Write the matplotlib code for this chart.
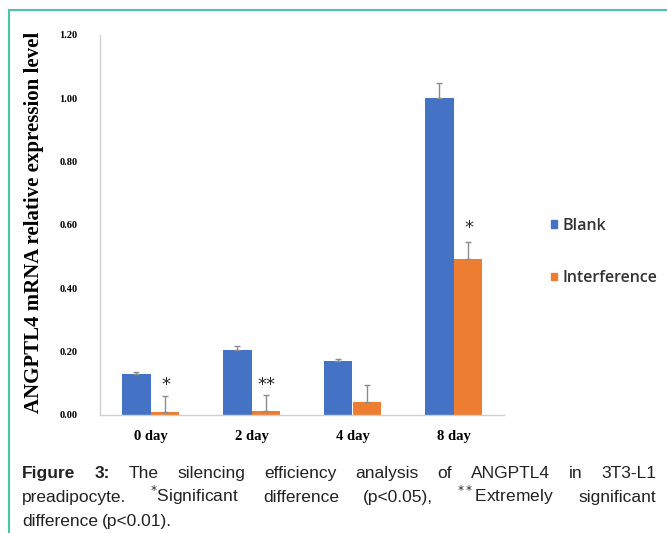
import matplotlib
matplotlib.use("Agg")
import matplotlib.pyplot as plt
import numpy as np
from matplotlib.lines import Line2D
from matplotlib.patches import Patch

# --- data ------------------------------------------------------------------
days = ["0 day", "2 day", "4 day", "8 day"]
blank = [0.13, 0.205, 0.17, 1.00]
blank_err = [0.006, 0.012, 0.008, 0.05]
interference = [0.01, 0.013, 0.042, 0.492]
interference_err = [0.05, 0.05, 0.052, 0.053]
marks = ["*", "**", "", "*"]
mark_y = [0.095, 0.095, None, 0.59]

BLUE = "#4472C4"
ORANGE = "#ED7D31"
TEAL = "#4cc4ad"

fig = plt.figure(figsize=(6.67, 5.33), dpi=100)

# page frame lines (top and left)
fig.add_artist(Line2D([9 / 667, 1], [1 - 10 / 533] * 2, color=TEAL, lw=1.5))
fig.add_artist(Line2D([9 / 667] * 2, [0, 1 - 10 / 533], color=TEAL, lw=1.5))

ax = fig.add_axes([100 / 667, 1 - 415 / 533, 404 / 667, 380 / 533])
x = np.arange(len(days))
w = 0.285
err_kw = dict(ecolor="#8c8c8c", elinewidth=1.0, capsize=2, capthick=1.0)
ax.bar(x - w / 2, blank, w, color=BLUE,
       yerr=[np.zeros(4), blank_err], error_kw=err_kw, zorder=2)
ax.bar(x + w / 2, interference, w, color=ORANGE,
       yerr=[np.zeros(4), interference_err], error_kw=err_kw, zorder=2)

for xi, m, my in zip(x, marks, mark_y):
    if m:
        ax.text(xi + w / 2 + 0.01, my, m, ha="center", va="center",
                fontsize=13, color="#222222")

ax.set_xlim(-0.5, 3.5)
ax.set_ylim(0, 1.2)
ax.set_yticks(np.arange(0, 1.21, 0.2))
ax.set_yticklabels([f"{v:.2f}" for v in np.arange(0, 1.21, 0.2)],
                   family="Liberation Serif", fontweight="bold", fontsize=7.5)
ax.set_xticks(x)
ax.set_xticklabels(days, family="Liberation Serif", fontweight="bold", fontsize=10.5)
ax.tick_params(axis="both", length=0)
ax.tick_params(axis="y", pad=16)
ax.tick_params(axis="x", pad=11)
for s in ["top", "right"]:
    ax.spines[s].set_visible(False)
for s in ["left", "bottom"]:
    ax.spines[s].set_color("#d0d0d0")
    ax.spines[s].set_linewidth(1.0)

fig.text(34 / 667, 1 - 222 / 533, "ANGPTL4 mRNA relative expression level",
         rotation=90, ha="center", va="center", family="Liberation Serif",
         fontweight="bold", fontsize=15)

handles = [Patch(color=BLUE, label="Blank"),
           Patch(color=ORANGE, label="Interference")]
leg = fig.legend(handles=handles, loc="center left",
                 bbox_to_anchor=(537 / 667, 1 - 252 / 533), frameon=False,
                 prop={"family": "Open Sans", "size": 11.5, "weight": 600},
                 handlelength=0.35, handleheight=0.35, handletextpad=0.35,
                 labelspacing=2.3)
for t in leg.get_texts():
    t.set_color("#333333")

# --- caption, justified lines --------------------------------------------
fig.canvas.draw()
renderer = fig.canvas.get_renderer()
CAP = dict(family="Liberation Sans", fontsize=12.5, color="#222222")
x0, x1 = 22, 656


def place_line(words, ypix, justify=True):
    arts = []
    for txt, bold in words:
        t = fig.text(0, 1 - ypix / 533, txt, va="baseline",
                     fontweight="bold" if bold else "normal", **CAP)
        arts.append(t)
    widths = [a.get_window_extent(renderer).width for a in arts]
    if justify and len(arts) > 1:
        gap = (x1 - x0 - sum(widths)) / (len(arts) - 1)
    else:
        gap = 4.0
    pos = x0
    for a, wd in zip(arts, widths):
        a.set_x(pos / 667)
        pos += wd + gap
    return arts


line1 = [("Figure", True), ("3:", True), ("The", False), ("silencing", False),
         ("efficiency", False), ("analysis", False), ("of", False),
         ("ANGPTL4", False), ("in", False), ("3T3-L1", False)]
place_line(line1, 478)

line2 = [("preadipocyte.", False), (r"$^{*}$Significant", False),
         ("difference", False), ("(p<0.05),", False),
         (r"$^{**}$Extremely", False), ("significant", False)]
place_line(line2, 502)

place_line([("difference", False), ("(p<0.01).", False)], 526, justify=False)

fig.savefig("out.png", dpi=100)
